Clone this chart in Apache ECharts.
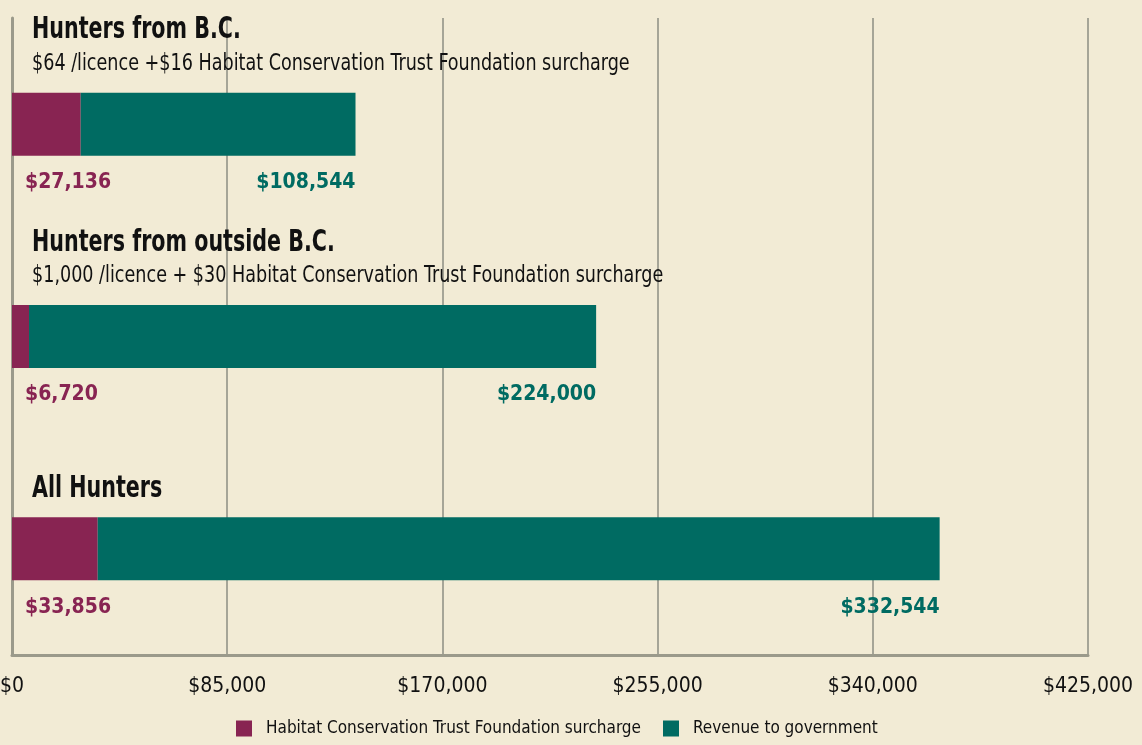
<!DOCTYPE html>
<html>
<head>
<meta charset="utf-8">
<script src="https://cdn.jsdelivr.net/npm/echarts@6/dist/echarts.min.js"></script>
<style>
	html, body { margin: 0; padding: 0; background: #f2ebd5; }
	#chart { width: 1142px; height: 745px; }
</style>
</head>
<body>
<div id="chart"></div>
<script>
var categories = ['Hunters from B.C.', 'Hunters from outside B.C.', 'All Hunters'];
var subtitles = [
	'$64 /licence +$16 Habitat Conservation Trust Foundation surcharge',
	'$1,000 /licence + $30 Habitat Conservation Trust Foundation surcharge',
	''
];
var surcharge = [27136, 6720, 33856];
var revenue = [108544, 224000, 332544];
var seriesNames = ['Habitat Conservation Trust Foundation surcharge', 'Revenue to government'];
var axisMin = 0, axisMax = 425000, axisStep = 85000;

var FONT = '"DejaVu Sans Condensed", "Liberation Sans Narrow", sans-serif';
var MAGENTA = '#882452';
var GREEN = '#006b62';

function money(v) {
	return '$' + Number(v).toLocaleString('en-US');
}

var myChart = echarts.init(document.getElementById('chart'));

var option = {
	backgroundColor: '#f2ebd5',
	animation: false,
	grid: {
		left: 12,
		right: 54,
		top: 18,
		bottom: 90,
		outerBoundsMode: 'none'
	},
	legend: {
		left: 231,
		bottom: 3,
		icon: 'rect',
		itemWidth: 16,
		itemHeight: 16,
		itemGap: 22,
		textStyle: {
			fontFamily: FONT,
			fontSize: 17,
			color: '#111',
			padding: [0, 0, 0, 9]
		},
		data: seriesNames
	},
	xAxis: {
		type: 'value',
		min: axisMin,
		max: axisMax,
		interval: axisStep,
		axisLine: { show: true, lineStyle: { color: '#9b9a8b', width: 3 } },
		axisTick: { show: false },
		axisLabel: {
			margin: 21,
			fontFamily: FONT,
			fontSize: 21,
			color: '#111',
			formatter: money
		},
		splitLine: { lineStyle: { color: '#a6a597', width: 2 } }
	},
	yAxis: {
		type: 'category',
		inverse: true,
		data: categories,
		axisLine: { show: true, lineStyle: { color: '#9b9a8b', width: 3 } },
		axisTick: { show: false },
		axisLabel: { show: false }
	},
	series: [{
		name: seriesNames[0],
		type: 'bar',
		stack: 'total',
		barWidth: 63,
		itemStyle: { color: MAGENTA },
		label: {
			show: true,
			position: [13, 90],
			align: 'left',
			verticalAlign: 'middle',
			fontFamily: FONT,
			fontWeight: 'bold',
			fontSize: 21,
			color: MAGENTA,
			formatter: function(p) { return money(p.value); }
		},
		data: surcharge
	}, {
		name: seriesNames[1],
		type: 'bar',
		stack: 'total',
		barWidth: 63,
		itemStyle: { color: GREEN },
		label: {
			show: true,
			position: ['100%', 90],
			align: 'right',
			verticalAlign: 'middle',
			fontFamily: FONT,
			fontWeight: 'bold',
			fontSize: 21,
			color: GREEN,
			formatter: function(p) { return money(p.value); }
		},
		data: revenue
	}]
};

myChart.setOption(option);

// category headings above each bar
var graphics = [];
categories.forEach(function(name, i) {
	var cy = myChart.convertToPixel({ yAxisIndex: 0 }, name);
	var hasSub = subtitles[i] !== '';
	graphics.push({
		type: 'text',
		x: 32,
		y: cy - (hasSub ? 94 : 60),
		scaleX: 0.74,
		style: {
			text: name,
			font: 'bold 31px ' + FONT,
			fill: '#111',
			verticalAlign: 'middle'
		}
	});
	if (hasSub) {
		graphics.push({
			type: 'text',
			x: 32,
			y: cy - 60,
			scaleX: 0.85,
			style: {
				text: subtitles[i],
				font: '23px ' + FONT,
				fill: '#111',
				verticalAlign: 'middle'
			}
		});
	}
});
myChart.setOption({ graphic: graphics });
</script>
</body>
</html>
